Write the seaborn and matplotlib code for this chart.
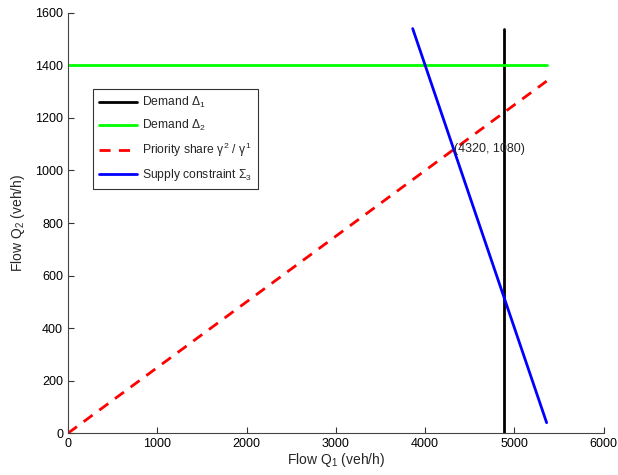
import matplotlib.pyplot as plt
import seaborn as sns
import pandas as pd

# line endpoints (veh/h)
demand1_q1 = [4880, 4880]
demand1_q2 = [0, 1540]
demand2_q1 = [0, 5360]
demand2_q2 = [1400, 1400]
priority_q1 = [0, 5360]
priority_q2 = [0, 1340]
supply_q1 = [3860, 5360]
supply_q2 = [1540, 40]
point = (4320, 1080)

sns.set_style("white")
plt.rcParams['font.family'] = ['Liberation Sans', 'DejaVu Sans']
plt.rcParams['mathtext.fontset'] = 'custom'
plt.rcParams['mathtext.rm'] = 'Liberation Sans'
plt.rcParams['mathtext.it'] = 'Liberation Sans'

fig = plt.figure(figsize=(6.18, 4.75), dpi=100)
ax = fig.add_axes([0.110, 0.088, 0.867, 0.885])

opts = dict(ax=ax, lw=2, estimator=None, sort=False)
sns.lineplot(x=demand1_q1, y=demand1_q2, color="black",
             label=r"Demand $\Delta_1$", **opts)
sns.lineplot(x=demand2_q1, y=demand2_q2, color="#00ff00",
             label=r"Demand $\Delta_2$", **opts)
sns.lineplot(x=priority_q1, y=priority_q2, color="red", linestyle=(0, (4, 3)),
             label=r"Priority share $\gamma^2$ / $\gamma^1$", **opts)
sns.lineplot(x=supply_q1, y=supply_q2, color="blue",
             label=r"Supply constraint $\Sigma_3$", **opts)

ax.text(point[0], point[1], "(%d, %d)" % point, fontsize=9,
        ha="left", va="center")

ax.set_xlim(0, 6000)
ax.set_ylim(0, 1600)
ax.set_xticks(range(0, 6001, 1000))
ax.set_yticks(range(0, 1601, 200))
ax.set_xlabel(r"Flow Q$_1$ (veh/h)", fontsize=10, labelpad=1)
ax.set_ylabel(r"Flow Q$_2$ (veh/h)", fontsize=10, labelpad=6)
ax.tick_params(direction="in", length=4, width=0.8, labelsize=9,
               bottom=True, left=True, colors="#333333", labelcolor="black")
for s in ["top", "right"]:
    ax.spines[s].set_visible(False)
for s in ["left", "bottom"]:
    ax.spines[s].set_color("#444444")
    ax.spines[s].set_linewidth(0.8)

leg = ax.legend(loc="upper left", bbox_to_anchor=(0.046, 0.818), fontsize=8.7,
                frameon=True, fancybox=False, handlelength=3.2,
                borderpad=0.5, labelspacing=0.65, handletextpad=0.4,
                borderaxespad=0)
leg.get_frame().set_edgecolor("black")
leg.get_frame().set_linewidth(0.8)

fig.savefig("out.png", dpi=100)
